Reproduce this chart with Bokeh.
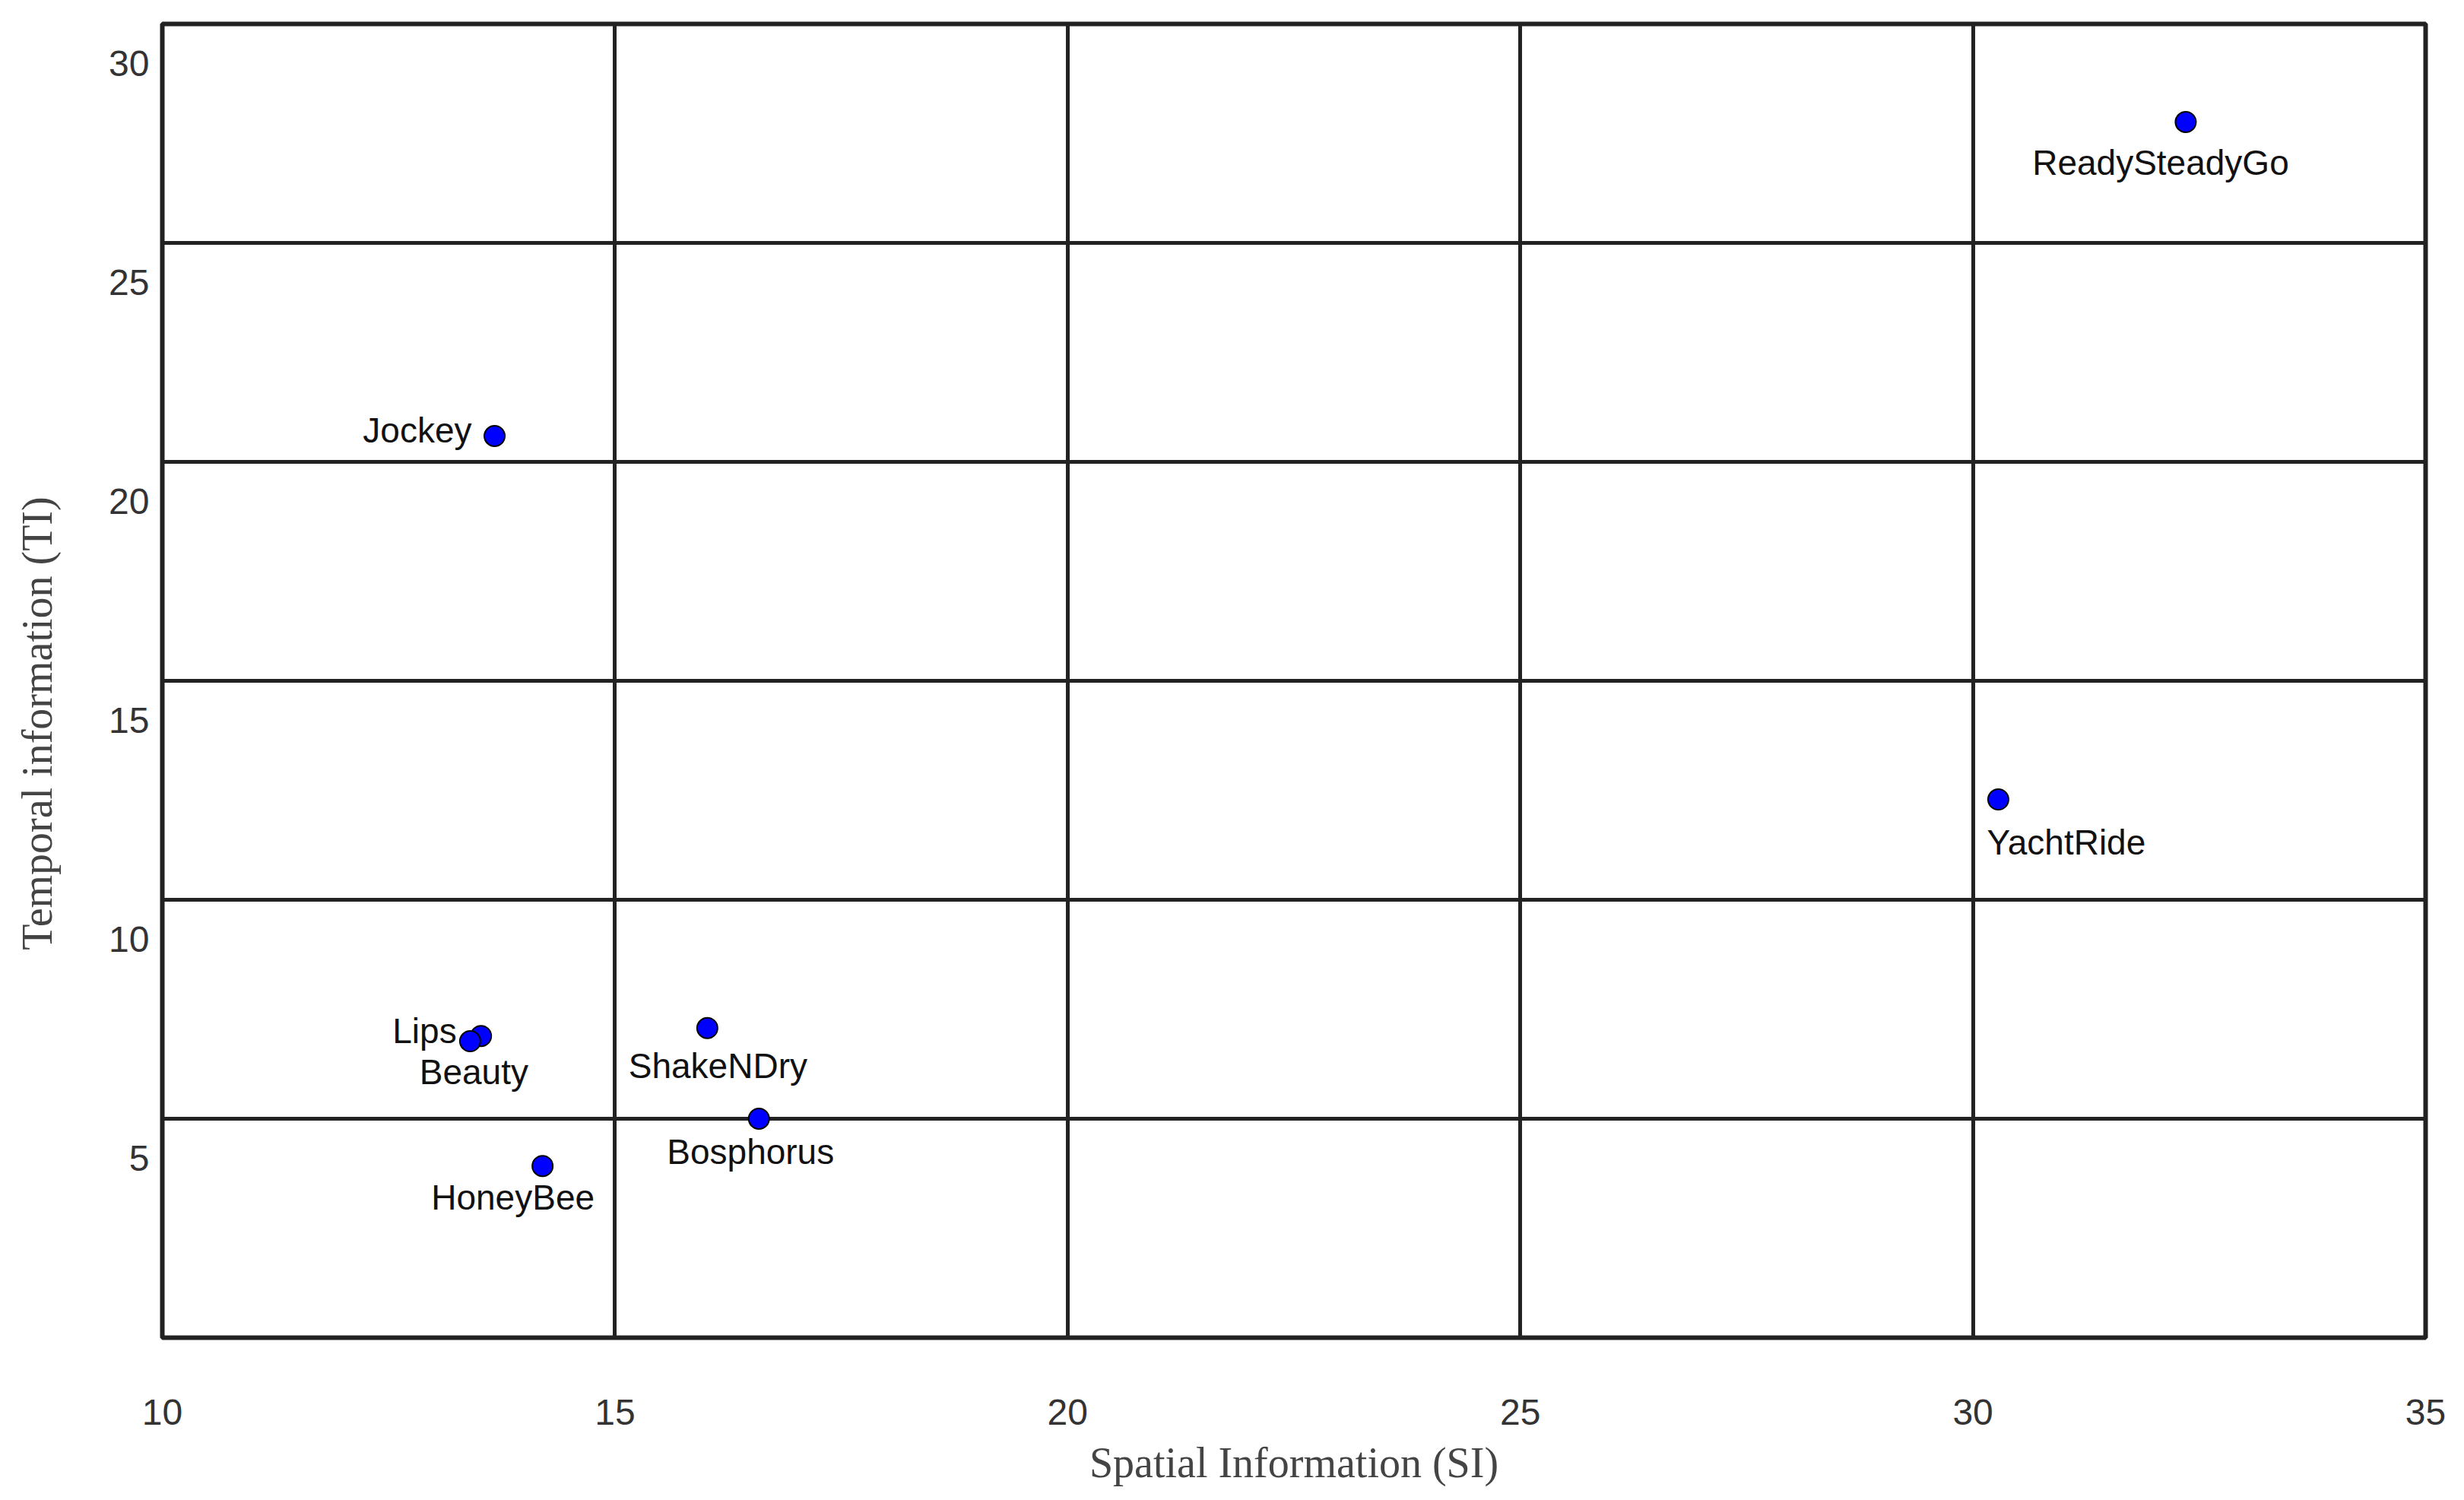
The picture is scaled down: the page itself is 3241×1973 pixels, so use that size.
from bokeh.plotting import figure
from bokeh.models import Range1d, FixedTicker, ColumnDataSource
from bokeh.core.properties import value
from bokeh.embed import file_html
from bokeh.resources import INLINE

# ---- data ----
names = ["ReadySteadyGo", "Jockey", "YachtRide", "Lips", "Beauty",
         "ShakeNDry", "Bosphorus", "HoneyBee"]
si = [32.35, 13.67, 30.28, 13.52, 13.40, 16.02, 16.59, 14.20]
ti = [28.66, 21.49, 13.19, 7.79, 7.67, 7.97, 5.90, 4.82]
x_ticks = [10, 15, 20, 25, 30, 35]
y_ticks = [5, 10, 15, 20, 25, 30]

# ---- label placement (style, screen px) ----
label_dx = [-33, -30, -15, -32, 5, 14, -11, -39]
label_dy = [53, -8, 56, -7, 40, 50, 43, 41]
label_align = ["center", "right", "left", "right", "center", "center", "center", "center"]

GRID_SHIFT = 0.9
x_lo, x_hi = x_ticks[0], x_ticks[-1]
y_lo, y_hi = GRID_SHIFT, y_ticks[-1] + GRID_SHIFT

src = ColumnDataSource(dict(x=si, y=ti, name=names, dx=label_dx, dy=label_dy, align=label_align))

FRAME_W, FRAME_H = 2977, 1728
p = figure(output_backend="svg", toolbar_location=None,
           frame_width=FRAME_W, frame_height=FRAME_H,
           min_border_left=213, min_border_top=31, min_border_right=43, min_border_bottom=206,
           x_range=Range1d(x_lo, x_hi), y_range=Range1d(y_lo, y_hi),
           background_fill_color="white", border_fill_color="white")

p.outline_line_color = "#222222"
p.outline_line_width = 6

# grid
p.xgrid.ticker = FixedTicker(ticks=x_ticks[1:-1])
p.ygrid.ticker = FixedTicker(ticks=[t + GRID_SHIFT for t in y_ticks[:-1]])
for g in (p.xgrid, p.ygrid):
    g.grid_line_color = "#222222"
    g.grid_line_width = 5
    g.grid_line_alpha = 1.0

# axes
p.xaxis.ticker = FixedTicker(ticks=x_ticks)
p.yaxis.ticker = FixedTicker(ticks=y_ticks)
for ax in (p.xaxis, p.yaxis):
    ax.axis_line_color = None
    ax.major_tick_line_color = None
    ax.minor_tick_line_color = None
    ax.major_tick_out = 0
    ax.major_tick_in = 0
    ax.major_label_text_font = "Liberation Sans"
    ax.major_label_text_font_size = "48px"
    ax.major_label_text_color = "#333333"
    ax.axis_label_text_font = "Liberation Serif"
    ax.axis_label_text_font_size = "56px"
    ax.axis_label_text_font_style = "normal"
    ax.axis_label_text_color = "#444444"

p.xaxis.major_label_standoff = 81
p.yaxis.major_label_standoff = 17
p.xaxis.axis_label = "Spatial Information (SI)"
p.xaxis.axis_label_standoff = 16
# trailing no-break spaces push the rotated title slightly below the frame centre
p.yaxis.axis_label = "Temporal information (TI)" + "\u00a0" * 8
p.yaxis.axis_label_standoff = 60

# points
p.scatter("x", "y", source=src, size=27, fill_color="#0000ff",
          line_color="#000000", line_width=2)

p.text("x", "y", text="name", source=src, x_offset="dx", y_offset="dy",
       text_align="align", text_baseline="middle",
       text_font=value("Liberation Sans"), text_font_size="46px",
       text_color="#111111")

open("out.html", "w").write(file_html(p, INLINE))
